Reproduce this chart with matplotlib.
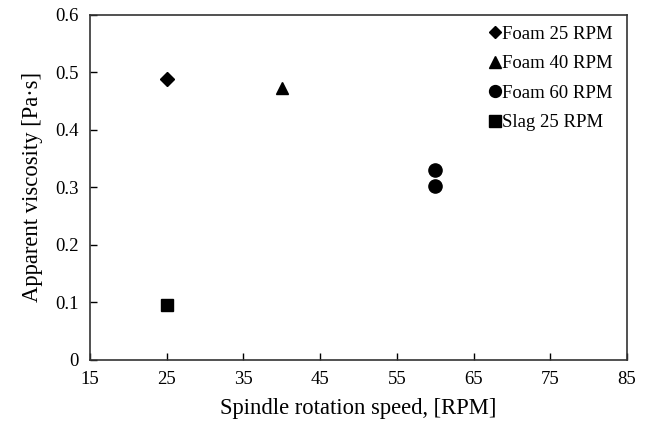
import matplotlib.pyplot as plt

plt.rcParams['font.family'] = ['Liberation Serif', 'DejaVu Serif']

# data
foam25_x = [25]
foam25_y = [0.488]
foam40_x = [40]
foam40_y = [0.473]
foam60_x = [60, 60]
foam60_y = [0.330, 0.303]
slag25_x = [25]
slag25_y = [0.095]

xticks = [15, 25, 35, 45, 55, 65, 75, 85]
yticks = [0, 0.1, 0.2, 0.3, 0.4, 0.5, 0.6]
yticklabels = ['0', '0.1', '0.2', '0.3', '0.4', '0.5', '0.6']

fig = plt.figure(figsize=(6.5, 4.23), dpi=100)
ax = fig.add_axes([0.1385, 0.149, 0.826, 0.816])

ax.plot(foam25_x, foam25_y, 'D', color='black', markersize=7, linestyle='none', label='Foam 25 RPM')
ax.plot(foam40_x, foam40_y, '^', color='black', markersize=9, linestyle='none', label='Foam 40 RPM')
ax.plot(foam60_x, foam60_y, 'o', color='black', markersize=9.5, linestyle='none', label='Foam 60 RPM')
ax.plot(slag25_x, slag25_y, 's', color='black', markersize=9, linestyle='none', label='Slag 25 RPM')

ax.set_xlim(15, 85)
ax.set_ylim(0, 0.6)
ax.set_xticks(xticks)
ax.set_yticks(yticks)
ax.set_yticklabels(yticklabels)
ax.tick_params(direction='in', length=5, width=1, labelsize=13.5, pad=8)
for s in ax.spines.values():
    s.set_linewidth(1.2)
    s.set_color('#333333')

ax.set_xlabel('Spindle rotation speed, [RPM]', fontsize=16.3, labelpad=7)
ax.set_ylabel('Apparent viscosity [Pa·s]', fontsize=16.3, labelpad=9)

ax.legend(loc='upper right', bbox_to_anchor=(0.974, 0.969), frameon=False, fontsize=13.5,
          handletextpad=0.1, handlelength=0.6, labelspacing=0.66,
          borderaxespad=0, borderpad=0, markerscale=0.9)

plt.savefig('out.png', dpi=100)
plt.close()
